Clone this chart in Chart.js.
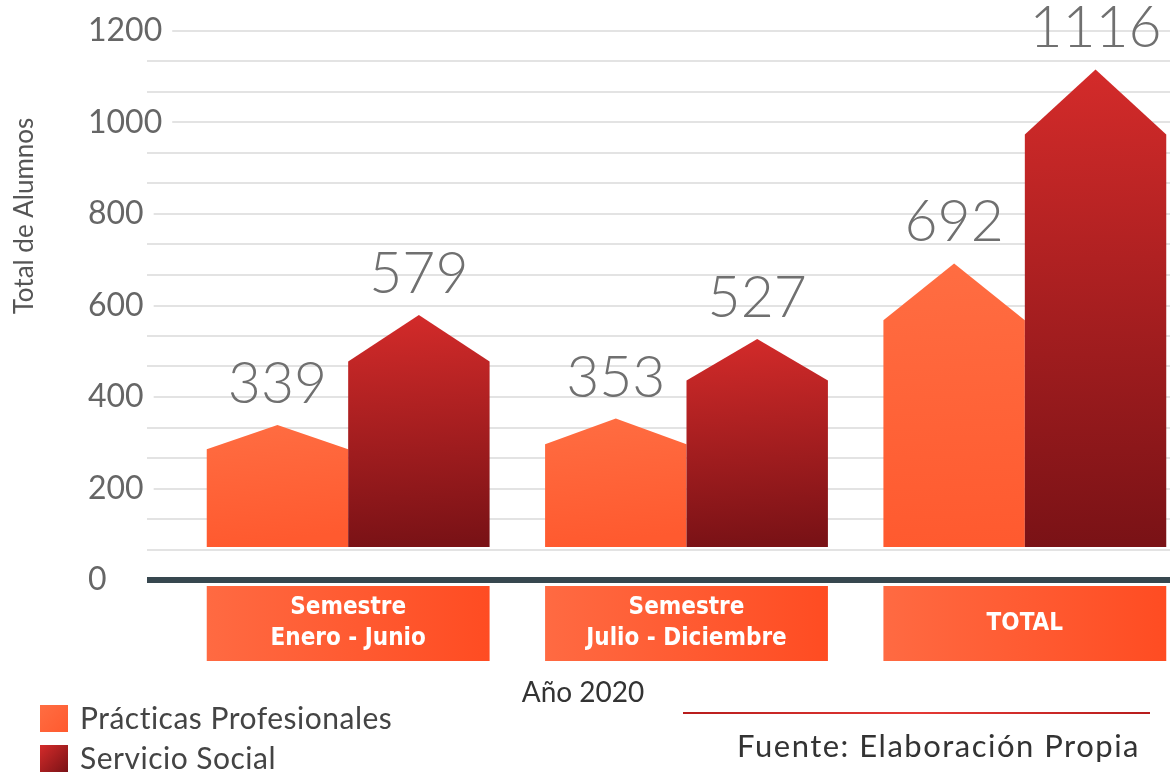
<!DOCTYPE html>
<html><head><meta charset="utf-8">
<script src="https://cdn.jsdelivr.net/npm/chart.js@4/dist/chart.umd.min.js"></script>
<style>html,body{margin:0;padding:0;overflow:hidden;background:#fff}canvas{display:block}</style>
</head><body>
<canvas id="c" width="1200" height="774"></canvas>
<script>
// ---- data ----
const categories = [['Semestre', 'Enero - Junio'], ['Semestre', 'Julio - Diciembre'], ['TOTAL']];
const seriesNames = ['Prácticas Profesionales', 'Servicio Social'];
const practicas = [339, 353, 692];
const servicio = [579, 527, 1116];
const yTickLabels = [0, 200, 400, 600, 800, 1000, 1200];
const yTitle = 'Total de Alumnos';
const xTitle = 'Año 2020';
const sourceText = 'Fuente: Elaboración Propia';

// ---- style ----
const FONT = 'Lato, "Noto Sans", sans-serif';
const NARROW = '"Liberation Sans Narrow", "DejaVu Sans Condensed", Lato, sans-serif';
const isMajor = v => yTickLabels.some(t => Math.abs(t - v) < 1e-6);

function seriesGradient(ctx, di, x0, y0, x1, y1) {
  const g = ctx.createLinearGradient(x0, y0, x1, y1);
  if (di === 0) { g.addColorStop(0, '#ff6d42'); g.addColorStop(1, '#ff5a2f'); }
  else { g.addColorStop(0, '#d42b2a'); g.addColorStop(1, '#7a1216'); }
  return g;
}

const decor = {
  id: 'decor',
  afterDatasetsDraw(chart) {
    const ctx = chart.ctx;
    const gap = 30;
    ctx.save();
    chart.data.datasets.forEach((ds, di) => {
      const meta = chart.getDatasetMeta(di);
      meta.data.forEach((el, i) => {
        const p = el.getProps(['x', 'y', 'width', 'base'], true);
        const b = p.base - gap;
        const h = b - p.y;
        const rise = Math.min(0.2 * h, 65);
        const l = p.x - p.width / 2, r = p.x + p.width / 2;
        ctx.fillStyle = seriesGradient(ctx, di, l, p.y, r * 0.1 + l * 0.9, b);
        ctx.beginPath();
        ctx.moveTo(l, b);
        ctx.lineTo(l, p.y + rise);
        ctx.lineTo(p.x, p.y);
        ctx.lineTo(r, p.y + rise);
        ctx.lineTo(r, b);
        ctx.closePath();
        ctx.fill();
        ctx.fillStyle = '#707070';
        ctx.font = '300 57px ' + FONT;
        ctx.textAlign = 'center';
        ctx.textBaseline = 'alphabetic';
        ctx.fillText(String(ds.data[i]), p.x, p.y - 22);
      });
    });
    ctx.restore();
  },
  afterDraw(chart) {
    const ctx = chart.ctx;
    const area = chart.chartArea;
    const m0 = chart.getDatasetMeta(0), m1 = chart.getDatasetMeta(1);
    ctx.save();
    // category boxes (x axis labels)
    chart.data.labels.forEach((lab, i) => {
      const a = m0.data[i], b = m1.data[i];
      const l = a.x - a.width / 2, r = b.x + b.width / 2;
      const top = area.bottom + 6, bot = area.bottom + 81;
      const g = ctx.createLinearGradient(l, 0, r, 0);
      g.addColorStop(0, '#ff6a42'); g.addColorStop(1, '#ff4c22');
      ctx.fillStyle = g;
      ctx.fillRect(l, top, r - l, bot - top);
      ctx.fillStyle = '#ffffff';
      ctx.font = 'bold 24px ' + NARROW;
      ctx.textAlign = 'center';
      ctx.textBaseline = 'middle';
      const lines = Array.isArray(lab) ? lab : [lab];
      const cy = (top + bot) / 2, lh = 31;
      lines.forEach((t, k) => {
        ctx.fillText(t, (l + r) / 2, cy + (k - (lines.length - 1) / 2) * lh);
      });
    });
    // y title
    ctx.save();
    ctx.translate(25, 216);
    ctx.rotate(-Math.PI / 2);
    ctx.fillStyle = '#555';
    ctx.font = '26px ' + FONT;
    ctx.textAlign = 'center';
    ctx.textBaseline = 'middle';
    ctx.fillText(yTitle, 0, 0);
    ctx.restore();
    // x title
    ctx.fillStyle = '#333';
    ctx.font = '28px ' + FONT;
    ctx.textAlign = 'center';
    ctx.textBaseline = 'middle';
    ctx.fillText(xTitle, 583, 693);
    // source line + text
    const lg = ctx.createLinearGradient(683, 0, 1150, 0);
    lg.addColorStop(0, '#b71c1c'); lg.addColorStop(0.5, '#e53935'); lg.addColorStop(1, '#b71c1c');
    ctx.strokeStyle = lg;
    ctx.lineWidth = 2;
    ctx.beginPath(); ctx.moveTo(683, 713); ctx.lineTo(1150, 713); ctx.stroke();
    ctx.fillStyle = '#333';
    ctx.font = '31px ' + FONT;
    ctx.letterSpacing = '1.5px';
    ctx.textAlign = 'right';
    ctx.fillText(sourceText, 1140, 747);
    // legend
    chart.data.datasets.forEach((ds, di) => {
      const y0 = di === 0 ? 705 : 745;
      ctx.fillStyle = seriesGradient(ctx, di, 40, y0, 68, y0 + 27);
      ctx.fillRect(40, y0, 28, 27);
      ctx.fillStyle = '#444';
      ctx.font = '30px ' + FONT;
      ctx.letterSpacing = '0.5px';
      ctx.textAlign = 'left';
      ctx.textBaseline = 'middle';
      ctx.fillText(ds.label, 80, y0 + 14);
    });
    ctx.restore();
  }
};

new Chart(document.getElementById('c'), {
  type: 'bar',
  data: {
    labels: categories,
    datasets: [
      { label: seriesNames[0], data: practicas, backgroundColor: 'rgba(0,0,0,0)' },
      { label: seriesNames[1], data: servicio, backgroundColor: 'rgba(0,0,0,0)' }
    ]
  },
  options: {
    responsive: false,
    animation: false,
    layout: { padding: { left: 88, top: 31, right: 6, bottom: 194 } },
    datasets: { bar: { categoryPercentage: 0.836, barPercentage: 1.0 } },
    plugins: { legend: { display: false }, tooltip: { enabled: false }, title: { display: false } },
    scales: {
      x: { display: false },
      y: {
        min: yTickLabels[0],
        max: yTickLabels[yTickLabels.length - 1],
        afterFit: s => { s.width = 91; s.paddingTop = 0; s.paddingBottom = 0; },
        border: { display: false },
        grid: {
          color: c => (c.tick && Math.abs(c.tick.value) < 1e-6) ? '#37474f' : '#e3e3e3',
          lineWidth: c => (c.tick && Math.abs(c.tick.value) < 1e-6) ? 6 : 2,
          tickLength: 32,
          drawTicks: true
        },
        ticks: {
          stepSize: 200 / 3,
          autoSkip: false,
          crossAlign: 'far',
          padding: 0,
          callback: v => isMajor(v) ? String(Math.round(v)) : '',
          color: '#666',
          font: { family: FONT, size: 32 },
          showLabelBackdrop: true,
          backdropColor: c => isMajor(c.tick.value) ? '#ffffff' : 'rgba(0,0,0,0)',
          backdropPadding: { left: 2, right: 10, top: 0, bottom: 0 }
        }
      }
    }
  },
  plugins: [decor]
});
</script>
</body></html>
